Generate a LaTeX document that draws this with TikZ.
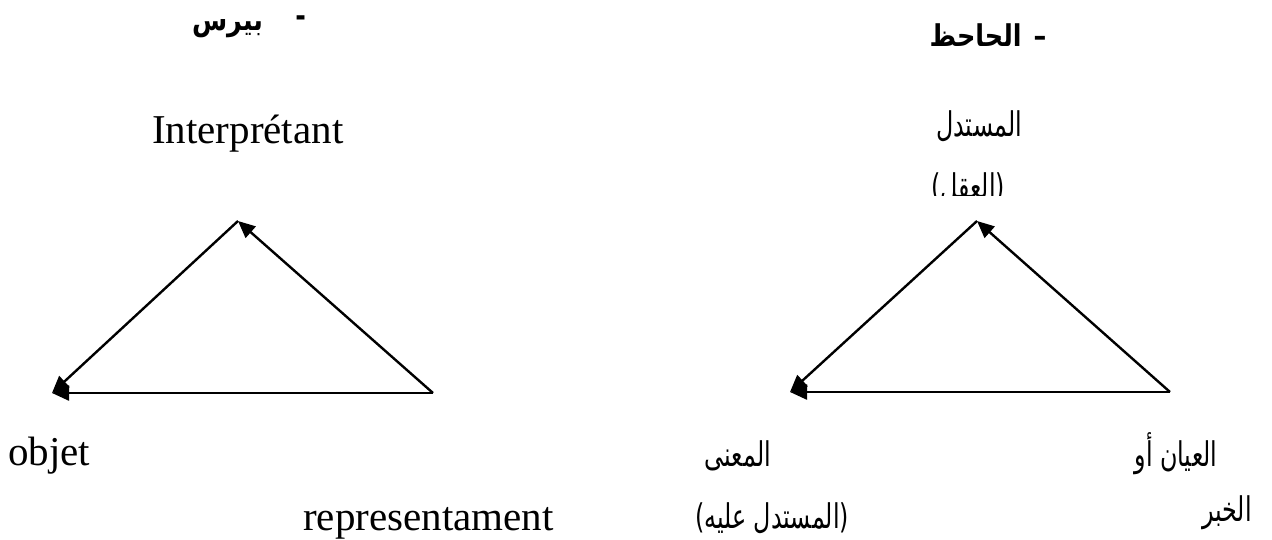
\documentclass[tikz,border=0pt]{standalone}
\usepackage{graphicx}
\usepackage{fontspec}
\setmainfont{Liberation Serif}
\newfontfamily\arabicfont[Script=Arabic]{DejaVu Sans}
\TeXXeTstate=1
\usetikzlibrary{arrows.meta}
\newcommand{\artxt}[1]{\scalebox{0.7}[1]{\beginR #1\endR}}
\newcommand{\arhead}[1]{\scalebox{0.85}[1]{\beginR #1\endR}}
\begin{document}
\begin{tikzpicture}[x=1pt,y=-1pt,
  edge/.style={line width=2.4pt,-{Triangle[length=17pt,width=15pt]}},
  lat/.style={font=\fontsize{41}{44}\selectfont,inner sep=0pt,anchor=base west},
  ar/.style={font=\arabicfont\fontsize{34}{38}\selectfont,inner sep=0pt,anchor=base},
  arb/.style={font=\arabicfont\bfseries\fontsize{30}{33}\selectfont,inner sep=0pt,anchor=base}]
\useasboundingbox (0,0) rectangle (1272,539);
% left triangle
\coordinate (pA) at (238,221);
\coordinate (pL) at (52,393);
\coordinate (pR) at (433,393);
\draw[edge] (pR) -- (pA);
\draw[edge] (pA) -- (pL);
\draw[edge] (pR) -- (pL);
% right triangle
\coordinate (jA) at (977,221);
\coordinate (jL) at (790,392);
\coordinate (jR) at (1170,392);
\draw[edge] (jR) -- (jA);
\draw[edge] (jA) -- (jL);
\draw[edge] (jR) -- (jL);
% headers
\node[arb] (hp) at (249,30) {\arhead{\raisebox{4pt}{-}\hspace{38pt}بيرس}};
\node[arb] (hj) at (988,46) {\arhead{–\hspace{14pt}الحاحظ}};
% left labels
\node[lat] (interp) at (152,143) {Interprétant};
\node[lat] (obj) at (8,465) {objet};
\node[lat] (repr) at (303,530) {representament};
% right labels
\node[ar] (mustadall) at (979,136) {\artxt{المستدل}};
\begin{scope}
\clip (900,160) rectangle (1040,195);
\node[ar] (aql) at (968,198) {\artxt{(العقل)}};
\end{scope}
\node[ar] (mana) at (738,466) {\artxt{المعنى}};
\node[ar] (alayh) at (772,528) {\artxt{(المستدل عليه)}};
\node[ar] (iyan) at (1176,466) {\artxt{العيان أو}};
\node[ar] (khabar) at (1227,521) {\artxt{الخبر}};
\end{tikzpicture}
\end{document}
